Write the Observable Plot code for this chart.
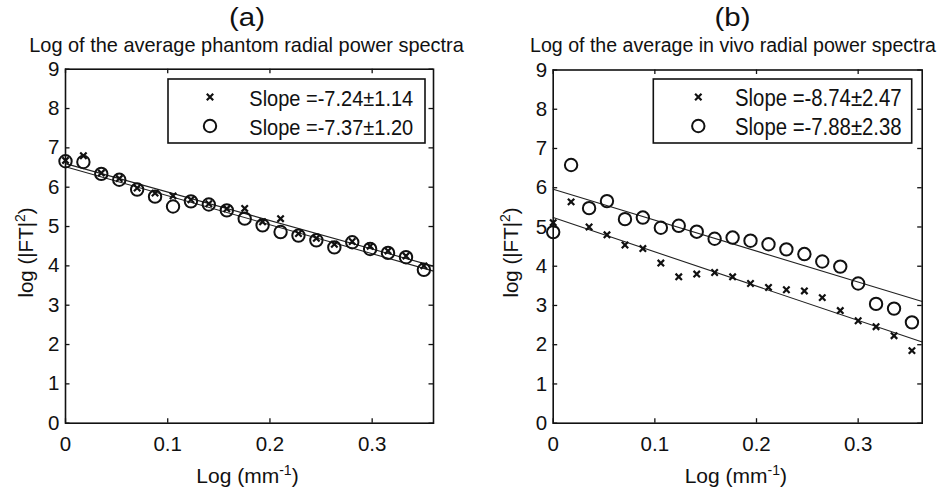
<!DOCTYPE html>
<html><head><meta charset="utf-8">
<script src="https://cdn.jsdelivr.net/npm/d3@7"></script>
<script src="https://cdn.jsdelivr.net/npm/@observablehq/plot@0.6"></script>
<style>
body{margin:0;background:#fff;}
#wrap{position:relative;width:942px;height:491px;overflow:hidden;background:#fff;}
.panel{position:absolute;top:0;}
</style></head><body><div id="wrap"></div>
<script>
// ---- data ----
const phantomX = [0, 0.0175, 0.035, 0.0526, 0.0701, 0.0876, 0.1052, 0.1227, 0.1402, 0.1578, 0.1753, 0.1928, 0.2104, 0.2279, 0.2454, 0.263, 0.2805, 0.298, 0.3155, 0.3331, 0.3506];
const phantomCross = [6.68, 6.80, 6.36, 6.22, 5.98, 5.85, 5.78, 5.68, 5.58, 5.45, 5.46, 5.12, 5.20, 4.82, 4.70, 4.55, 4.62, 4.50, 4.38, 4.25, 4.00];
const phantomCircle = [6.66, 6.64, 6.34, 6.19, 5.94, 5.76, 5.51, 5.64, 5.56, 5.41, 5.20, 5.03, 4.86, 4.77, 4.65, 4.47, 4.60, 4.43, 4.33, 4.22, 3.90];
const vivoX = [0, 0.0176, 0.0353, 0.0529, 0.0706, 0.0882, 0.1059, 0.1235, 0.1412, 0.1588, 0.1765, 0.1941, 0.2118, 0.2294, 0.2471, 0.2647, 0.2824, 0.3, 0.3176, 0.3353, 0.3529];
const vivoCross = [5.11, 5.64, 5.00, 4.80, 4.54, 4.45, 4.08, 3.73, 3.80, 3.84, 3.73, 3.56, 3.46, 3.40, 3.37, 3.20, 2.87, 2.61, 2.46, 2.23, 1.85];
const vivoCircle = [4.87, 6.58, 5.48, 5.66, 5.20, 5.24, 4.98, 5.03, 4.88, 4.70, 4.73, 4.65, 4.56, 4.43, 4.31, 4.12, 3.99, 3.56, 3.04, 2.92, 2.57];

const panelLabels = ["(a)", "(b)"];
const panelTitles = ["Log of the average phantom radial power spectra", "Log of the average in vivo radial power spectra"];
const legendCross = ["Slope =-7.24\u00b11.14", "Slope =-8.74\u00b12.47"];
const legendCircle = ["Slope =-7.37\u00b11.20", "Slope =-7.88\u00b12.38"];
const fitSlopeCross = [-7.24, -8.74];
const fitSlopeCircle = [-7.37, -7.88];
const fitInterceptCross = [6.60, 5.24];
const fitInterceptCircle = [6.52, 5.96];
const xMax = [0.36, 0.363];
const xTicks = [0, 0.1, 0.2, 0.3];
const yTicks = [0, 1, 2, 3, 4, 5, 6, 7, 8, 9];
const xLabel = "Log (mm";
const xLabelSup = "-1";
const yLabel = "log (|FT|";
const yLabelSup = "2";

// ---- layout ----
const FONT = '"Liberation Sans", Arial, Helvetica, sans-serif';
const INK = "#111";
const H = 491, FRAME_BOTTOM = 422.7, TICK = 4.5;
const layout = [
  {left: 0, width: 470, mL: 65, mR: 37, top: 68.7, yLabX: 33, labCX: 247, titleCX: 246.5, titleW: 435,
   leg: {x: 168, w: 257, symX: 210, textX: 249.3, textW: 164}, xLabCX: 247.5},
  {left: 470, width: 472, mL: 82.7, mR: 20.3, top: 69.5, yLabX: 47.5, labCX: 262.5, titleCX: 263, titleW: 406,
   leg: {x: 183.3, w: 258.4, symX: 228.3, textX: 265, textW: 166.7}, xLabCX: 265.8}
];
const series = [
  {xs: phantomX, cross: phantomCross, circ: phantomCircle},
  {xs: vivoX, cross: vivoCross, circ: vivoCircle}
];

const wrap = document.getElementById("wrap");

// horizontally condense a text to a target width (the reference font is narrow)
function condense(sel, cx, y, target) {
  const w = sel.node().getComputedTextLength();
  const sx = w > 0 ? target / w : 1;
  sel.attr("x", 0).attr("y", 0).attr("transform", `translate(${cx},${y}) scale(${sx},1)`);
}

series.forEach((s, i) => {
  const L = layout[i];
  const plotW = L.width - L.mL - L.mR;
  const plotH = FRAME_BOTTOM - L.top;
  const crossData = s.xs.map((x, j) => ({x, y: s.cross[j]}));
  const circData = s.xs.map((x, j) => ({x, y: s.circ[j]}));
  const fitCross = [0, xMax[i]].map(x => ({x, y: fitInterceptCross[i] + fitSlopeCross[i] * x}));
  const fitCirc = [0, xMax[i]].map(x => ({x, y: fitInterceptCircle[i] + fitSlopeCircle[i] * x}));

  const svg = Plot.plot({
    width: L.width,
    height: H,
    marginLeft: L.mL,
    marginRight: L.mR,
    marginTop: L.top,
    marginBottom: H - FRAME_BOTTOM,
    x: {domain: [0, xMax[i]]},
    y: {domain: [0, 9]},
    style: {fontFamily: FONT, fontSize: "20.5px", color: INK, background: "white", overflow: "visible"},
    marks: [
      Plot.line(fitCross, {x: "x", y: "y", stroke: "#222", strokeWidth: 1.1}),
      Plot.line(fitCirc, {x: "x", y: "y", stroke: "#222", strokeWidth: 1.1}),
      Plot.dot(crossData, {x: "x", y: "y", symbol: "times", r: 3, stroke: INK, strokeWidth: 2.2}),
      Plot.dot(circData, {x: "x", y: "y", r: 6.2, stroke: INK, strokeWidth: 2, fill: "none"}),
      // inward ticks on all four sides
      Plot.tickX(xTicks, {x: d => d, insetTop: plotH - TICK, stroke: INK, strokeWidth: 1.3}),
      Plot.tickX(xTicks, {x: d => d, insetBottom: plotH - TICK, stroke: INK, strokeWidth: 1.3}),
      Plot.tickY(yTicks, {y: d => d, insetRight: plotW - TICK, stroke: INK, strokeWidth: 1.3}),
      Plot.tickY(yTicks, {y: d => d, insetLeft: plotW - TICK, stroke: INK, strokeWidth: 1.3}),
      Plot.frame({stroke: INK, strokeWidth: 1.6}),
      Plot.axisX({ticks: xTicks, anchor: "bottom", tickSize: 0, tickPadding: 13, label: null, tickFormat: d => String(d)}),
      Plot.axisY({ticks: yTicks, anchor: "left", tickSize: 0, tickPadding: 6, label: null})
    ]
  });

  const div = document.createElement("div");
  div.className = "panel";
  div.style.left = L.left + "px";
  div.appendChild(svg);
  wrap.appendChild(div);

  const root = d3.select(svg);
  const g = root.append("g").attr("font-family", FONT).attr("fill", INK);

  // panel label and title
  const lab = g.append("text").attr("text-anchor", "middle").attr("font-size", 26).text(panelLabels[i]);
  condense(lab, L.labCX, 26, 36);
  const ttl = g.append("text").attr("text-anchor", "middle").attr("font-size", 21).text(panelTitles[i]);
  condense(ttl, L.titleCX, 52.3, L.titleW);

  // x label
  const xl = g.append("text").attr("x", L.xLabCX).attr("y", 483.3).attr("text-anchor", "middle").attr("font-size", 21);
  xl.append("tspan").text(xLabel);
  xl.append("tspan").attr("font-size", 14).attr("dy", -8).text(xLabelSup);
  xl.append("tspan").attr("dy", 8).text(")");

  // y label
  const yl = g.append("text").attr("transform", `translate(${L.yLabX},252.5) rotate(-90)`).attr("text-anchor", "middle").attr("font-size", 20.5);
  yl.append("tspan").text(yLabel);
  yl.append("tspan").attr("font-size", 14).attr("dy", -8).text(yLabelSup);
  yl.append("tspan").attr("dy", 8).text(")");

  // legend
  const lg = L.leg;
  const top = 79, bottom = 143;
  g.append("rect").attr("x", lg.x).attr("y", top).attr("width", lg.w).attr("height", bottom - top)
    .attr("fill", "white").attr("stroke", INK).attr("stroke-width", 1.6);
  const rows = [97, 126];
  const cs = 3.2;
  g.append("path").attr("d", `M${lg.symX - cs},${rows[0] - cs}L${lg.symX + cs},${rows[0] + cs}M${lg.symX - cs},${rows[0] + cs}L${lg.symX + cs},${rows[0] - cs}`)
    .attr("stroke", INK).attr("stroke-width", 2.2).attr("fill", "none");
  g.append("circle").attr("cx", lg.symX).attr("cy", rows[1]).attr("r", 6.2)
    .attr("stroke", INK).attr("stroke-width", 2).attr("fill", "none");
  [legendCross[i], legendCircle[i]].forEach((t, k) => {
    const tx = g.append("text").attr("font-size", 23).attr("text-anchor", "start").text(t);
    condense(tx, lg.textX, rows[k] + 9, lg.textW);
  });
});
</script>
</body></html>
